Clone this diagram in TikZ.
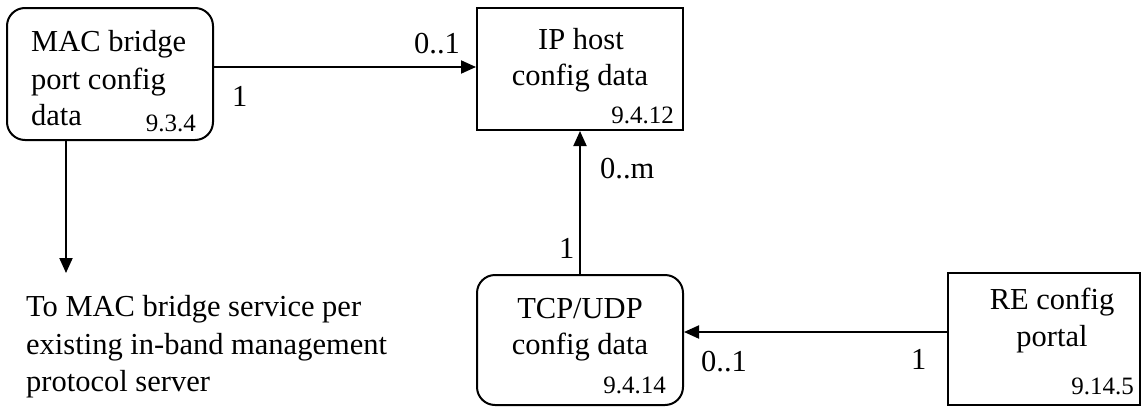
\documentclass[tikz,border=0pt]{standalone}
\usepackage{fontspec}
\setmainfont{Liberation Serif}
\usetikzlibrary{arrows.meta}
\begin{document}
\begin{tikzpicture}[x=1pt,y=-1pt,
  box/.style={draw,line width=2pt,inner sep=0pt,minimum width=#1},
  rbox/.style={box=#1,rounded corners=18pt},
  main/.style={inner sep=0pt,font=\fontsize{30.5}{36}\selectfont},
  num/.style={inner sep=0pt,font=\fontsize{25}{28}\selectfont,anchor=base east},
  lab/.style={inner sep=0pt,font=\fontsize{30.5}{36}\selectfont,anchor=base west},
  arr/.style={line width=2pt,-{Triangle[length=15pt,width=13pt]}}]
\useasboundingbox (0,0) rectangle (1143,407);
% boxes
\node[rbox=206pt,minimum height=132pt] (mac) at (110,74) {};
\node[box=206pt,minimum height=122pt] (ip) at (580,69) {};
\node[rbox=206pt,minimum height=130pt] (tcp) at (580,340) {};
\node[box=192pt,minimum height=132pt] (re) at (1044,339) {};
% texts
\node[main,anchor=base west] (mact1) at (31,51) {MAC bridge};
\node[main,anchor=base west] (mact2) at (31,89) {port config};
\node[main,anchor=base west] (mact3) at (31,125) {data};
\node[num] (macn) at (196,131) {9.3.4};
\node[main,anchor=base] (ipt1) at (581,49) {IP host};
\node[main,anchor=base] (ipt2) at (580,85) {config data};
\node[num] (ipn) at (674,123) {9.4.12};
\node[main,anchor=base] (tcpt1) at (580,318) {TCP/UDP};
\node[main,anchor=base] (tcpt2) at (580,354) {config data};
\node[num] (tcpn) at (666,393) {9.4.14};
\node[main,anchor=base] (ret1) at (1052,309) {RE config};
\node[main,anchor=base] (ret2) at (1052,346) {portal};
\node[num] (ren) at (1134,394) {9.14.5};
\node[main,anchor=base west] (to1) at (26,316) {To MAC bridge service per};
\node[main,anchor=base west] (to2) at (26,354) {existing in-band management};
\node[main,anchor=base west] (to3) at (26,391) {protocol server};
% connectors
\coordinate (dst) at (66,273);
\draw[arr] ([yshift=7pt]mac.east) -- ([yshift=7pt]mac.east -| ip.west);
\draw[arr] (mac.south -| dst) -- (dst);
\draw[arr] (tcp.north) -- (ip.south);
\draw[arr] ([yshift=7pt]re.west) -- ([yshift=7pt]re.west -| tcp.east);
% multiplicity labels
\node[lab] (l1) at (414,53) {0..1};
\node[lab] (l2) at (232,106) {1};
\node[lab] (l3) at (600,178) {0..m};
\node[lab] (l4) at (559,258) {1};
\node[lab] (l5) at (701,371) {0..1};
\node[lab] (l6) at (911,369) {1};
\end{tikzpicture}
\end{document}
